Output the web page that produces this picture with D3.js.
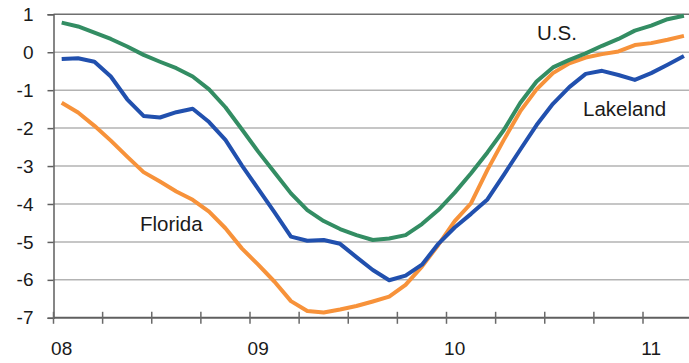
<!DOCTYPE html>
<html>
<head>
<meta charset="utf-8">
<script src="https://cdn.jsdelivr.net/npm/d3@7"></script>
<style>
  html, body { margin: 0; padding: 0; background: #fff; overflow: hidden; }
  svg { display: block; font-family: "Liberation Sans", Arial, sans-serif; }
</style>
</head>
<body>
<svg id="chart" width="689" height="363"></svg>
<script>
// Monthly categories, Jan 2008 – Mar 2011
const months = [
  "2008-01","2008-02","2008-03","2008-04","2008-05","2008-06","2008-07","2008-08","2008-09","2008-10","2008-11","2008-12",
  "2009-01","2009-02","2009-03","2009-04","2009-05","2009-06","2009-07","2009-08","2009-09","2009-10","2009-11","2009-12",
  "2010-01","2010-02","2010-03","2010-04","2010-05","2010-06","2010-07","2010-08","2010-09","2010-10","2010-11","2010-12",
  "2011-01","2011-02","2011-03"
];

const usValues = [
  0.78, 0.68, 0.52, 0.35, 0.15, -0.07, -0.25, -0.42, -0.64, -0.98, -1.45, -2.03,
  -2.62, -3.17, -3.72, -4.16, -4.45, -4.66, -4.82, -4.95, -4.91, -4.82, -4.53, -4.16,
  -3.70, -3.19, -2.64, -2.05, -1.34, -0.77, -0.40, -0.20, -0.03, 0.17, 0.35, 0.57,
  0.70, 0.87, 0.96
];

const lakelandValues = [
  -0.18, -0.16, -0.25, -0.64, -1.24, -1.68, -1.72, -1.58, -1.49, -1.84, -2.31, -2.98,
  -3.60, -4.22, -4.86, -4.97, -4.95, -5.05, -5.40, -5.74, -6.01, -5.89, -5.60, -5.05,
  -4.62, -4.26, -3.88, -3.23, -2.57, -1.92, -1.36, -0.92, -0.57, -0.49, -0.60, -0.73,
  -0.55, -0.33, -0.10
];

const floridaValues = [
  -1.33, -1.59, -1.94, -2.33, -2.75, -3.16, -3.41, -3.67, -3.89, -4.20, -4.64, -5.17,
  -5.60, -6.05, -6.56, -6.82, -6.86, -6.78, -6.69, -6.57, -6.44, -6.13, -5.65, -5.08,
  -4.45, -3.98, -3.10, -2.31, -1.56, -0.98, -0.55, -0.29, -0.14, -0.05, 0.02, 0.19,
  0.24, 0.33, 0.43
];

const yearLabels = ["08", "09", "10", "11"];
const yTicks = [1, 0, -1, -2, -3, -4, -5, -6, -7];

const series = [
  { name: "Florida",  values: floridaValues,  color: "#f7923a", label: { x: 140, y: 231 } },
  { name: "Lakeland", values: lakelandValues, color: "#2150ae", label: { x: 583, y: 116 } },
  { name: "U.S.",     values: usValues,       color: "#338d63", label: { x: 537, y: 40 } }
];

const svg = d3.select("#chart");
const plotLeft = 53.5, plotTop = 14.3, plotBottom = 317.8;
const monthWidth = 16.375;

// x: month index (band edges at integers, points at centres)
const x = d3.scaleLinear().domain([0, months.length]).range([plotLeft, plotLeft + months.length * monthWidth]);
const y = d3.scaleLinear().domain([-7, 1]).range([plotBottom, plotTop]);
const plotRight = x.range()[1];

// horizontal gridlines
svg.append("g")
  .selectAll("line")
  .data(yTicks.filter(v => v !== -7))
  .join("line")
  .attr("x1", plotLeft).attr("x2", plotRight)
  .attr("y1", d => y(d)).attr("y2", d => y(d))
  .attr("stroke", d => d === 1 ? "#6f6f6f" : "#b3b3b3")
  .attr("stroke-width", 1.5);

// y axis
const yAxis = svg.append("g")
  .attr("transform", `translate(${plotLeft},0)`)
  .call(d3.axisLeft(y).tickValues(yTicks).tickSize(6).tickPadding(14).tickFormat(d3.format("d")));
yAxis.select(".domain").attr("stroke", "#5f5f5f").attr("stroke-width", 1.5);
yAxis.selectAll(".tick line").attr("stroke", "#5f5f5f").attr("stroke-width", 1.5);
yAxis.selectAll(".tick text")
  .attr("fill", "#1a1a1a")
  .style("font-size", "19px")
  .style("font-family", "'Liberation Sans', Arial, sans-serif")
  .text(d => String(d));

// x axis: quarter ticks crossing the baseline, year labels at January
const quarterTicks = d3.range(0, months.length + 1, 3);
const xAxis = svg.append("g");
xAxis.append("line")
  .attr("x1", plotLeft).attr("x2", plotRight)
  .attr("y1", y(-7)).attr("y2", y(-7))
  .attr("stroke", "#5f5f5f").attr("stroke-width", 2);
xAxis.selectAll("line.qtick")
  .data(quarterTicks)
  .join("line")
  .attr("class", "qtick")
  .attr("x1", d => x(d)).attr("x2", d => x(d))
  .attr("y1", y(-7) - 6).attr("y2", y(-7) + 6)
  .attr("stroke", "#6a6a6a").attr("stroke-width", 1.5);
xAxis.selectAll("text")
  .data(yearLabels)
  .join("text")
  .attr("x", (d, i) => x(i * 12 + 0.5))
  .attr("y", 355)
  .attr("text-anchor", "middle")
  .attr("fill", "#1a1a1a")
  .style("font-size", "19px")
  .text(d => d);

// series lines
const line = d3.line()
  .x((d, i) => x(i + 0.5))
  .y(d => y(d));

svg.append("g")
  .selectAll("path")
  .data(series)
  .join("path")
  .attr("d", d => line(d.values))
  .attr("fill", "none")
  .attr("stroke", d => d.color)
  .attr("stroke-width", 4)
  .attr("stroke-linejoin", "round");

// direct labels
svg.append("g")
  .selectAll("text")
  .data(series)
  .join("text")
  .attr("x", d => d.label.x)
  .attr("y", d => d.label.y)
  .attr("fill", "#1a1a1a")
  .style("font-size", "20.5px")
  .text(d => d.name);
</script>
</body>
</html>
